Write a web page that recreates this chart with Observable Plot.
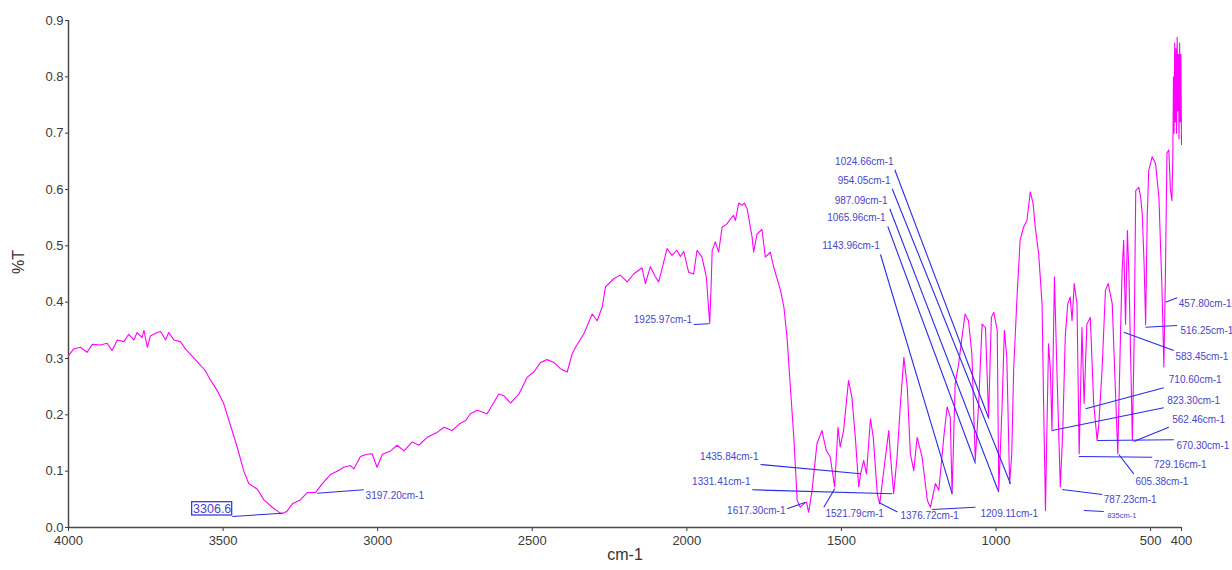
<!DOCTYPE html>
<html><head><meta charset="utf-8">
<script src="https://cdn.jsdelivr.net/npm/d3@7"></script>
<script src="https://cdn.jsdelivr.net/npm/@observablehq/plot@0.6"></script>
<style>body{margin:0;background:#fff} svg{display:block}</style>
</head><body><div id="chart"></div>
<script>
// ---- spectrum (wavenumber cm-1, transmittance) ----
const spectrumWn = [4000,3983,3961,3940,3923,3897,3875,3859,3842,3821,3805,3789,3778,3762,3756,3745,3735,3713,3702,3686,3676,3659,3638,3622,3595,3573,3557,3541,3519,3498,3476,3454,3433,3417,3389,3368,3341,3314,3303,3293,3276,3250,3228,3201,3179,3153,3131,3110,3088,3077,3056,3034,3018,3002,2985,2958,2937,2915,2888,2867,2840,2810,2785,2760,2735,2715,2700,2678,2646,2608,2592,2570,2543,2516,2495,2473,2452,2430,2409,2387,2371,2360,2333,2306,2290,2274,2263,2236,2215,2193,2172,2145,2134,2118,2102,2091,2064,2048,2032,2021,2010,1994,1978,1967,1951,1937,1931,1926,1922,1918,1908,1897,1886,1870,1859,1849,1843,1832,1821,1814,1805,1789,1784,1773,1757,1746,1730,1719,1697,1686,1676,1665,1654,1643,1633,1622,1613,1606,1595,1579,1563,1549,1536,1522,1511,1504,1493,1477,1466,1455,1444,1438,1428,1419,1406,1397,1384,1376,1363,1347,1341,1331,1320,1309,1298,1287,1277,1266,1255,1239,1222,1212,1196,1185,1169,1158,1148,1142,1132,1121,1110,1100,1089,1078,1067,1056,1045,1034,1024,1015,1007,996,991,980,973,965,956,949,943,932,922,911,900,889,880,873,862,851,846,840,835,830,824,819,811,803,792,784,776,768,760,754,747,738,731,722,715,706,695,684,673,668,657,646,637,624,613,606,597,592,587,581,575,570,564,559,553,548,538,532,527,521,516,511,506,495,484,473,463,457,452,447,441,436,431,428,426,424,422,420,418,416,414,412,410,408,406,404,402,400];
const spectrumT = [0.305,0.317,0.320,0.311,0.325,0.324,0.327,0.314,0.333,0.330,0.343,0.333,0.346,0.337,0.350,0.320,0.340,0.346,0.348,0.333,0.346,0.333,0.330,0.317,0.301,0.288,0.278,0.262,0.243,0.220,0.181,0.142,0.100,0.078,0.068,0.049,0.036,0.025,0.026,0.029,0.042,0.049,0.062,0.062,0.078,0.094,0.100,0.107,0.110,0.104,0.126,0.130,0.131,0.107,0.130,0.136,0.146,0.136,0.152,0.146,0.160,0.168,0.178,0.172,0.184,0.190,0.202,0.208,0.202,0.237,0.234,0.221,0.237,0.267,0.276,0.293,0.298,0.293,0.282,0.276,0.308,0.320,0.344,0.379,0.367,0.391,0.427,0.442,0.448,0.436,0.450,0.461,0.433,0.463,0.445,0.436,0.495,0.483,0.492,0.481,0.490,0.453,0.450,0.492,0.480,0.445,0.400,0.362,0.420,0.492,0.507,0.489,0.533,0.539,0.548,0.554,0.545,0.576,0.572,0.576,0.566,0.516,0.489,0.521,0.529,0.480,0.489,0.462,0.421,0.391,0.338,0.249,0.160,0.048,0.036,0.042,0.045,0.027,0.066,0.149,0.172,0.137,0.125,0.072,0.178,0.143,0.172,0.261,0.231,0.160,0.072,0.095,0.119,0.095,0.193,0.160,0.060,0.042,0.101,0.172,0.125,0.060,0.125,0.220,0.302,0.249,0.131,0.101,0.160,0.125,0.048,0.036,0.078,0.066,0.160,0.214,0.196,0.060,0.255,0.290,0.338,0.379,0.367,0.308,0.119,0.220,0.361,0.355,0.196,0.373,0.382,0.350,0.066,0.220,0.350,0.302,0.078,0.131,0.279,0.409,0.510,0.533,0.545,0.596,0.575,0.533,0.486,0.397,0.220,0.030,0.184,0.326,0.279,0.172,0.445,0.279,0.072,0.172,0.338,0.397,0.409,0.367,0.433,0.397,0.131,0.355,0.220,0.361,0.373,0.220,0.155,0.178,0.279,0.421,0.433,0.397,0.231,0.131,0.350,0.456,0.510,0.361,0.527,0.450,0.290,0.155,0.338,0.598,0.604,0.586,0.557,0.468,0.360,0.550,0.634,0.658,0.646,0.586,0.421,0.285,0.450,0.665,0.670,0.600,0.580,0.660,0.800,0.700,0.860,0.720,0.850,0.700,0.870,0.740,0.840,0.690,0.860,0.720,0.840,0.680];

// ---- peak annotations ----
const noteLabels = ["3197.20cm-1","1925.97cm-1","1024.66cm-1","954.05cm-1","987.09cm-1","1065.96cm-1","1143.96cm-1","1435.84cm-1","1331.41cm-1","1617.30cm-1","1521.79cm-1","1376.72cm-1","1209.11cm-1","457.80cm-1","516.25cm-1","583.45cm-1","710.60cm-1","823.30cm-1","562.46cm-1","670.30cm-1","729.16cm-1","605.38cm-1","787.23cm-1"];
const notePeakWn = [3195.6,1929,1023.3,953.1,991,1066.3,1141.7,1438.3,1335.8,1616.2,1521.4,1379.1,1206.4,451.8,516.5,586.7,710.5,818.3,554.4,672.7,732.2,602.8,785.9];
const notePeakT  = [0.0609,0.3616,0.1935,0.0776,0.0627,0.1136,0.0598,0.0953,0.0598,0.0449,0.0687,0.0444,0.032,0.40,0.3556,0.3467,0.2107,0.1722,0.1527,0.1544,0.126,0.1296,0.0675];
const noteEndWn  = [3044.9,1977.5,1327.4,1335.8,1343.5,1350,1373.6,1761.7,1788.6,1675.4,1557,1318.6,1066.3,414,414,424.9,457.3,457.3,441.1,424.9,494.8,554.4,656.5];
const noteEndT   = [0.0669,0.3604,0.635,0.6012,0.5657,0.5343,0.4846,0.1118,0.0669,0.0332,0.036,0.0275,0.036,0.4078,0.3586,0.3142,0.248,0.2125,0.178,0.1557,0.1248,0.0953,0.0586];
const noteTextWn = [3039,1982.7,1331.6,1341.3,1351,1357.4,1375.8,1768.2,1794.1,1680.9,1551.5,1309,1050.2,408.8,403.3,419.5,441.1,446.4,430.1,416.3,489.6,548.8,651.4];
const noteTextT  = [0.0568,0.3687,0.6485,0.616,0.5805,0.5498,0.5006,0.126,0.0804,0.0302,0.0243,0.0204,0.0249,0.3971,0.3485,0.3023,0.2622,0.2254,0.1912,0.1456,0.1118,0.0804,0.0492];

// small overlapping label
const tinyLabel = ["835cm-1"];
const tinyLineWn = [716.1, 651.4];
const tinyLineT = [0.0302, 0.0284];
const tinyTextWn = [640.4];
const tinyTextT = [0.0213];

// boxed label of the main O-H band
const boxLabel = ["3306.6"];
const boxWn = [3600, 3470.5];
const boxT = [0.0213, 0.0449];
const boxLineWn = [3309, 3470];
const boxLineT = [0.0254, 0.0195];

const xTicks = [4000,3500,3000,2500,2000,1500,1000,500,400];
const yTicks = [0,0.1,0.2,0.3,0.4,0.5,0.6,0.7,0.8,0.9];

const spectrum = spectrumWn.map((w,i)=>({wn:w, t:spectrumT[i]}));
const notes = noteLabels.map((label,i)=>({label, pw:notePeakWn[i], pt:notePeakT[i], ew:noteEndWn[i], et:noteEndT[i], tw:noteTextWn[i], tt:noteTextT[i]}));
const leftNotes = notes.filter(d=>d.tw > d.ew);
const rightNotes = notes.filter(d=>d.tw <= d.ew);

const lineBlue = "#2b2be8";
const textBlue = "#4646cc";

const chart = Plot.plot({
  width:1232, height:570,
  marginLeft:68, marginRight:51, marginTop:20, marginBottom:43,
  style:{fontFamily:"Arial, 'Liberation Sans', sans-serif", background:"#fff", overflow:"visible"},
  x:{domain:[4000,400]},
  y:{domain:[0,0.9]},
  marks:[
    Plot.axisX({ticks:xTicks, tickSize:4, tickPadding:4, tickFormat:d=>String(d), fontSize:13, color:"#3a3a3a", label:null}),
    Plot.axisY({ticks:yTicks, tickSize:3, tickPadding:2, tickFormat:d=>d.toFixed(1), fontSize:13, color:"#3a3a3a", label:null}),
    Plot.ruleY([0], {stroke:"#4a4a4a", strokeWidth:1.5}),
    Plot.ruleX([4000], {stroke:"#4a4a4a", strokeWidth:1.5}),
    Plot.line(spectrum, {x:"wn", y:"t", stroke:"#ff00ff", strokeWidth:1.1}),
    Plot.link(notes, {x1:"pw", y1:"pt", x2:"ew", y2:"et", stroke:lineBlue, strokeWidth:1.1}),
    Plot.text(leftNotes, {x:"tw", y:"tt", text:"label", textAnchor:"end", fill:textBlue, fontSize:10}),
    Plot.text(rightNotes, {x:"tw", y:"tt", text:"label", textAnchor:"start", fill:textBlue, fontSize:10}),
    Plot.link([0], {x1:()=>tinyLineWn[0], x2:()=>tinyLineWn[1], y1:()=>tinyLineT[0], y2:()=>tinyLineT[1], stroke:lineBlue, strokeWidth:1.1}),
    Plot.text(tinyLabel, {x:()=>tinyTextWn[0], y:()=>tinyTextT[0], text:d=>d, textAnchor:"start", fill:textBlue, fontSize:7.5}),
    Plot.rect(boxLabel, {x1:()=>boxWn[0], x2:()=>boxWn[1], y1:()=>boxT[0], y2:()=>boxT[1], stroke:lineBlue, strokeWidth:1.2, fill:"none"}),
    Plot.text(boxLabel, {x:()=>(boxWn[0]+boxWn[1])/2, y:()=>(boxT[0]+boxT[1])/2, text:d=>d, fill:textBlue, fontSize:12.5}),
    Plot.link([0], {x1:()=>boxLineWn[0], x2:()=>boxLineWn[1], y1:()=>boxLineT[0], y2:()=>boxLineT[1], stroke:lineBlue, strokeWidth:1.1}),
    Plot.text(["%T"], {frameAnchor:"left", dx:-50, rotate:-90, text:d=>d, fontSize:16, fill:"#333"}),
    Plot.text(["cm-1"], {frameAnchor:"bottom", dy:32, text:d=>d, fontSize:16, fill:"#333"})
  ]
});
document.getElementById("chart").appendChild(chart);
</script>
</body></html>
